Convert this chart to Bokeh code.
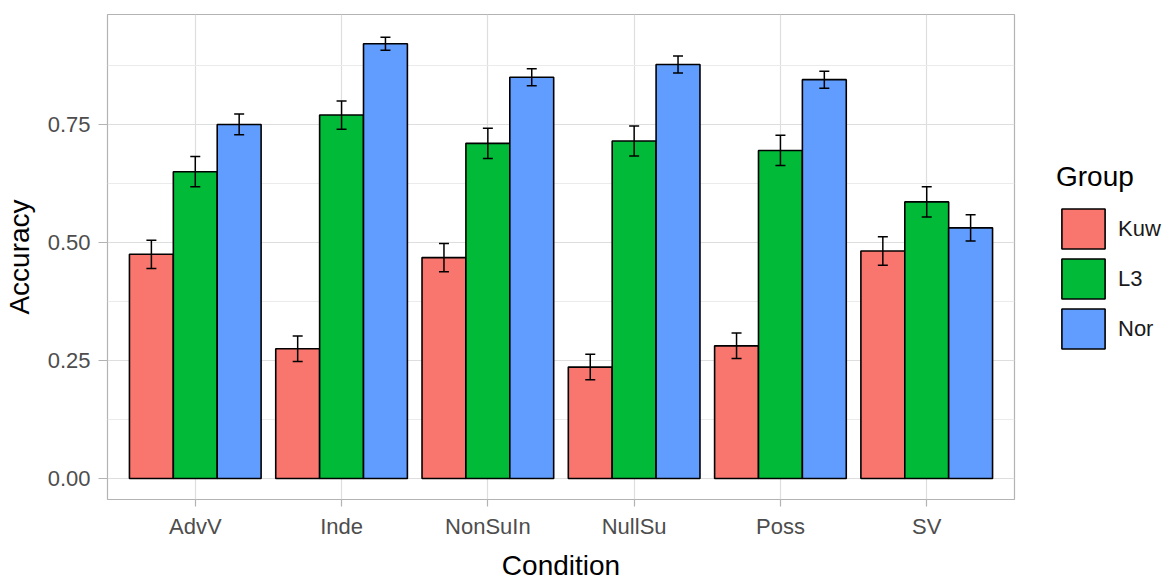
from bokeh.plotting import figure
from bokeh.models import (ColumnDataSource, Range1d, FixedTicker, PrintfTickFormatter,
                          Whisker, TeeHead, Legend, LegendItem)
from bokeh.transform import dodge
from bokeh.embed import file_html
from bokeh.resources import INLINE

conditions = ["AdvV", "Inde", "NonSuIn", "NullSu", "Poss", "SV"]
groups = ["Kuw", "L3", "Nor"]
kuw = [0.475, 0.275, 0.468, 0.236, 0.281, 0.482]
l3 = [0.650, 0.770, 0.710, 0.715, 0.695, 0.586]
nor = [0.750, 0.921, 0.850, 0.877, 0.845, 0.531]
kuw_se = [0.030, 0.027, 0.030, 0.027, 0.027, 0.030]
l3_se = [0.032, 0.030, 0.032, 0.032, 0.032, 0.032]
nor_se = [0.022, 0.014, 0.018, 0.018, 0.018, 0.028]
colors = ["#F8766D", "#00BA38", "#619CFF"]
y_ticks = [0.0, 0.25, 0.5, 0.75]
y_minor = [0.125, 0.375, 0.625, 0.875]

FONT = "Liberation Sans"

p = figure(frame_width=907, frame_height=485, output_backend="svg", toolbar_location=None,
           x_range=Range1d(0.4, 6.6), y_range=Range1d(-0.0445, 0.983),
           min_border_left=100, min_border_top=14, min_border_bottom=72, min_border_right=148)
p.background_fill_color = "white"
p.border_fill_color = "white"
p.outline_line_color = "#B3B3B3"
p.outline_line_width = 1.2

xpos = list(range(1, len(conditions) + 1))
series = [kuw, l3, nor]
ses = [kuw_se, l3_se, nor_se]
offsets = [-0.3, 0.0, 0.3]
items = []
for g, vals, se, col, off in zip(groups, series, ses, colors, offsets):
    src = ColumnDataSource(dict(x=xpos, top=vals,
                                lo=[v - s for v, s in zip(vals, se)],
                                hi=[v + s for v, s in zip(vals, se)]))
    r = p.vbar(x=dodge("x", off, range=p.x_range), top="top", bottom=0, width=0.3, source=src,
               fill_color=col, line_color="black", line_width=1.6)
    items.append(LegendItem(label=g, renderers=[r]))
    w = Whisker(base=dodge("x", off, range=p.x_range), lower="lo", upper="hi", source=src,
                line_color="black", line_width=1.5, level="overlay",
                lower_head=TeeHead(size=10, line_color="black", line_width=1.5),
                upper_head=TeeHead(size=10, line_color="black", line_width=1.5))
    p.add_layout(w)

# axes
p.xaxis.ticker = FixedTicker(ticks=xpos)
p.xaxis.major_label_overrides = {i: c for i, c in zip(xpos, conditions)}
p.yaxis.ticker = FixedTicker(ticks=y_ticks, minor_ticks=y_minor)
p.yaxis.formatter = PrintfTickFormatter(format="%.2f")
p.xaxis.axis_label = "Condition"
p.yaxis.axis_label = "Accuracy"
for ax in (p.xaxis, p.yaxis):
    ax.axis_line_color = None
    ax.major_tick_line_color = "#B3B3B3"
    ax.major_tick_line_width = 1.2
    ax.major_tick_in = 0
    ax.minor_tick_line_color = None
    ax.major_label_text_font = FONT
    ax.major_label_text_font_size = "22px"
    ax.major_label_text_color = "#4D4D4D"
    ax.axis_label_text_font = FONT
    ax.axis_label_text_font_size = "28px"
    ax.axis_label_text_font_style = "normal"
    ax.axis_label_text_color = "#000000"
p.xaxis.major_tick_out = 7
p.yaxis.major_tick_out = 9
p.xaxis.major_label_standoff = 7
p.yaxis.major_label_standoff = 8
p.xaxis.axis_label_standoff = 8
p.yaxis.axis_label_standoff = 10

# grid
p.xgrid.ticker = FixedTicker(ticks=xpos)
p.ygrid.ticker = FixedTicker(ticks=y_ticks, minor_ticks=y_minor)
p.grid.grid_line_color = "#DEDEDE"
p.grid.grid_line_width = 1.2
p.ygrid.minor_grid_line_color = "#EBEBEB"
p.ygrid.minor_grid_line_width = 1

legend = Legend(items=items, location="center_left", title="Group",
                title_text_font=FONT, title_text_font_size="28px", title_text_font_style="normal",
                title_text_color="#000000", title_standoff=11,
                label_text_font=FONT, label_text_font_size="22px", label_text_color="#1A1A1A",
                glyph_width=54, glyph_height=50, spacing=0, label_standoff=8,
                margin=42, padding=0, border_line_color=None, background_fill_alpha=0)
p.add_layout(legend, "right")

open("out.html", "w").write(file_html(p, INLINE))
